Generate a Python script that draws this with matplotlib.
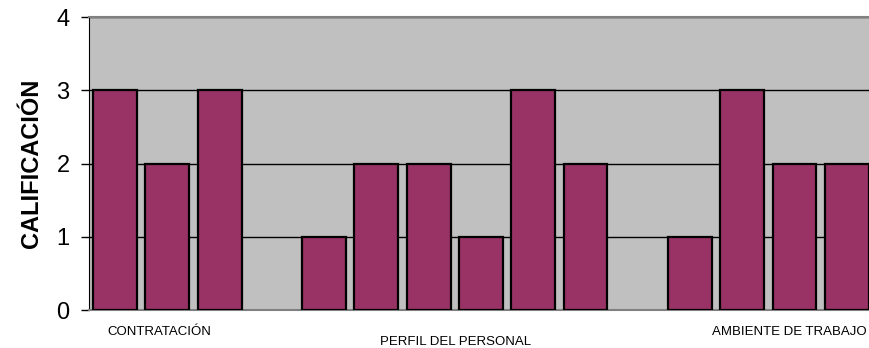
import matplotlib.pyplot as plt

# calificación de cada pregunta, agrupadas por área (None = hueco entre grupos)
valores = [3, 2, 3, None, 1, 2, 2, 1, 3, 2, None, 1, 3, 2, 2]
areas = ["CONTRATACIÓN", "PERFIL DEL PERSONAL", "AMBIENTE DE TRABAJO"]
pos_areas = [0.84, 6.52, 12.9]
y_ticks = [0, 1, 2, 3, 4]

plt.rcParams['font.family'] = ['Liberation Sans', 'DejaVu Sans']

fig = plt.figure(figsize=(8.7, 3.48), dpi=100)
ax = fig.add_axes([0.1023, 0.109, 0.901, 0.842])
ax.set_facecolor('#c0c0c0')

x = [i for i, v in enumerate(valores) if v is not None]
alturas = [v for v in valores if v is not None]
ax.bar(x, alturas, width=0.84, color='#993366', edgecolor='black',
       linewidth=1.6, zorder=3)

ax.set_ylim(0, 4)
ax.set_xlim(-0.5, len(valores) - 0.5)
ax.set_yticks(y_ticks)
ax.set_yticklabels([str(t) for t in y_ticks], fontsize=17)
ax.yaxis.grid(True, color='black', linewidth=1.0, zorder=1)
ax.tick_params(axis='y', length=6, width=1, pad=8)
ax.set_xticks([])

ax.spines['right'].set_visible(False)
ax.spines['top'].set_color('#808080')
ax.spines['top'].set_linewidth(1.5)
ax.spines['bottom'].set_color('#808080')
ax.spines['bottom'].set_linewidth(1.5)
ax.spines['left'].set_color('black')

ax.set_ylabel("CALIFICACIÓN", fontsize=17, fontweight='bold', labelpad=10)

# etiquetas de cada área bajo el eje, escalonadas
offsets = [-16, -23, -16]
for nombre, px, off in zip(areas, pos_areas, offsets):
    ax.annotate(nombre, xy=(px, 0), xytext=(0, off), textcoords='offset points',
                ha='center', va='center', fontsize=9.5, annotation_clip=False)

fig.savefig('out.png', dpi=100)
